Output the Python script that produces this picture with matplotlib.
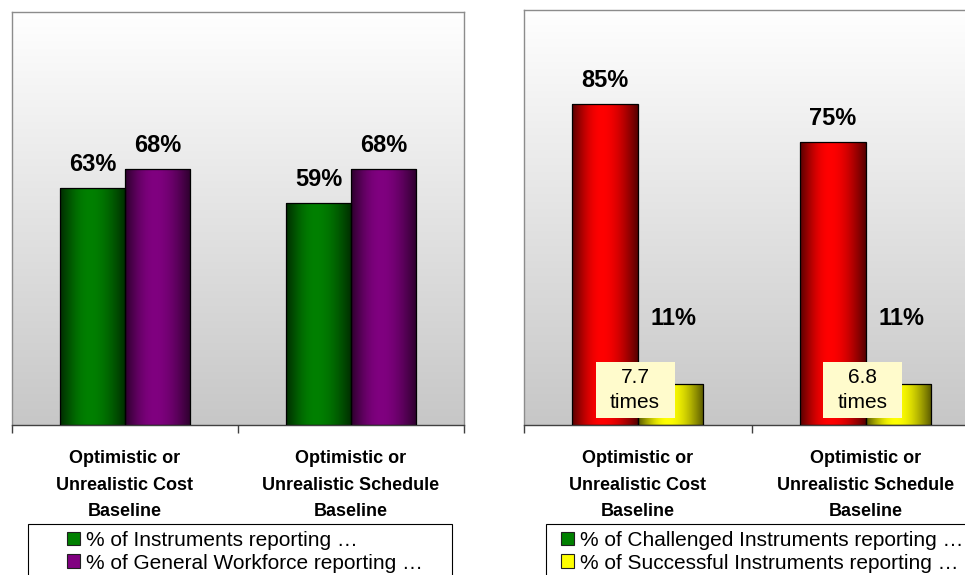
import numpy as np
import matplotlib
matplotlib.use("Agg")
import matplotlib.pyplot as plt
from matplotlib.patches import Rectangle, Patch
from matplotlib.colors import to_rgb

# ---- data -------------------------------------------------------------
categories = [
    "Optimistic or\nUnrealistic Cost\nBaseline",
    "Optimistic or\nUnrealistic Schedule\nBaseline",
]
instruments_pct = [63, 59]
workforce_pct = [68, 68]
challenged_pct = [85, 75]
successful_pct = [11, 11]

left_legend = ["% of Instruments reporting \u2026",
               "% of General Workforce reporting \u2026"]
right_legend = ["% of Challenged Instruments reporting \u2026",
                "% of Successful Instruments reporting \u2026"]

# ---- style ------------------------------------------------------------
plt.rcParams["font.family"] = ["Liberation Sans", "DejaVu Sans"]

W, H = 965, 575
fig = plt.figure(figsize=(W / 100, H / 100), dpi=100)
fig.patch.set_facecolor("white")


def px_box(x0, top, x1, bottom):
    """Axes rectangle given in pixel coordinates (origin top-left)."""
    return [x0 / W, 1 - bottom / H, (x1 - x0) / W, (bottom - top) / H]


ax_l = fig.add_axes(px_box(12, 11.5, 464, 425))
ax_r = fig.add_axes(px_box(524, 10, 979.4, 425))

BAR_W = 0.288


def style_axes(ax):
    # vertical white-to-grey plot-area fill
    g = np.linspace(1.0, 0.78, 256)[:, None]
    ax.imshow(np.dstack([g, g, g]), extent=(0, 1, 0, 1), transform=ax.transAxes,
              aspect="auto", zorder=0, interpolation="bilinear")
    ax.set_xlim(-0.5, 1.5)
    ax.set_ylim(0, 110)
    for s in ("left", "top", "right"):
        ax.spines[s].set_color("#8c8c8c")
        ax.spines[s].set_linewidth(1.0)
    ax.spines["bottom"].set_color("#404040")
    ax.spines["bottom"].set_linewidth(1.0)
    ax.set_yticks([])
    ax.set_xticks([-0.5, 0.5, 1.5])
    ax.set_xticklabels([])
    ax.tick_params(axis="x", which="major", direction="out", length=5.5,
                   width=1.0, color="#404040")
    ax.set_xticks([0, 1], minor=True)
    ax.set_xticklabels(categories, minor=True, fontsize=13, fontweight="bold",
                       linespacing=1.75, color="black")
    ax.tick_params(axis="x", which="minor", length=0, pad=18)


def shaded(color, n=96, peak=0.45, dark=0.35):
    t = np.linspace(0, 1, n)
    p = np.where(t < peak, t / peak, (1 - t) / (1 - peak))
    s = dark + (1 - dark) * np.sin(p * np.pi / 2)
    rgb = np.array(to_rgb(color))
    return (s[:, None] * rgb[None, :])[None, :, :]


def gradient_bars(ax, x, values, color):
    bars = ax.bar(x, values, BAR_W, facecolor="none", edgecolor="black",
                  linewidth=0.9, zorder=3)
    img = shaded(color)
    for rect in bars:
        x0 = rect.get_x()
        im = ax.imshow(img, extent=(x0, x0 + rect.get_width(), 0, rect.get_height()),
                       aspect="auto", zorder=2, interpolation="bilinear")
        im.set_clip_path(rect)
    return bars


def value_labels(ax, bars, values, dy=17, dx=0):
    for rect, v in zip(bars, values):
        ax.annotate(f"{v}%", (rect.get_x() + rect.get_width() / 2, v),
                    xytext=(dx, dy), textcoords="offset points",
                    ha="center", va="center", fontsize=17, fontweight="bold",
                    zorder=8)


pos = np.arange(len(categories))

# ---- left panel -------------------------------------------------------
style_axes(ax_l)
b1 = gradient_bars(ax_l, pos - BAR_W / 2, instruments_pct, "#008000")
b2 = gradient_bars(ax_l, pos + BAR_W / 2, workforce_pct, "#800080")
value_labels(ax_l, b1, instruments_pct)
value_labels(ax_l, b2, workforce_pct)
ax_l.set_xlim(-0.5, 1.5)
ax_l.set_ylim(0, 110)

# ---- right panel ------------------------------------------------------
style_axes(ax_r)
r1 = gradient_bars(ax_r, pos - BAR_W / 2, challenged_pct, "#ff0000")
r2 = gradient_bars(ax_r, pos + BAR_W / 2, successful_pct, "#ffff00")
value_labels(ax_r, r1, challenged_pct)
value_labels(ax_r, r2, successful_pct, dy=47, dx=2)

# ratio call-outs
box_w, box_h = 0.347, 14.8
for i, (c, s) in enumerate(zip(challenged_pct, successful_pct)):
    cx, cy = pos[i] - 0.012, 9.3
    ax_r.add_patch(Rectangle((cx - box_w / 2, cy - box_h / 2), box_w, box_h,
                             facecolor="#fffbcc", edgecolor="none", zorder=6))
    ax_r.text(cx, cy, f"{c / s:.1f}\ntimes", ha="center", va="center",
              fontsize=15, linespacing=1.4, zorder=7)
ax_r.set_xlim(-0.5, 1.5)
ax_r.set_ylim(0, 110)

# ---- legends ----------------------------------------------------------
fig.add_artist(Rectangle((28 / W, -0.1), (452 - 28) / W, (1 - 524 / H) + 0.1,
                         transform=fig.transFigure, facecolor="white",
                         edgecolor="black", linewidth=0.8))
fig.add_artist(Rectangle((545.7 / W, -0.1), 1.2 - 545.7 / W, (1 - 524 / H) + 0.1,
                         transform=fig.transFigure, facecolor="white",
                         edgecolor="black", linewidth=0.8))

leg_kw = dict(loc="upper left", frameon=False, fontsize=15, handlelength=0.62,
              handleheight=0.62, handletextpad=0.3, labelspacing=0.17,
              borderpad=0, borderaxespad=0)
fig.legend(handles=[Patch(facecolor="#008000", edgecolor="#202020", linewidth=0.8),
                    Patch(facecolor="#800080", edgecolor="#202020", linewidth=0.8)],
           labels=left_legend, bbox_to_anchor=(67 / W, 1 - 531 / H), **leg_kw)
fig.legend(handles=[Patch(facecolor="#008000", edgecolor="#202020", linewidth=0.8),
                    Patch(facecolor="#ffff00", edgecolor="#202020", linewidth=0.8)],
           labels=right_legend, bbox_to_anchor=(561 / W, 1 - 531 / H), **leg_kw)

fig.savefig("out.png", dpi=100)
